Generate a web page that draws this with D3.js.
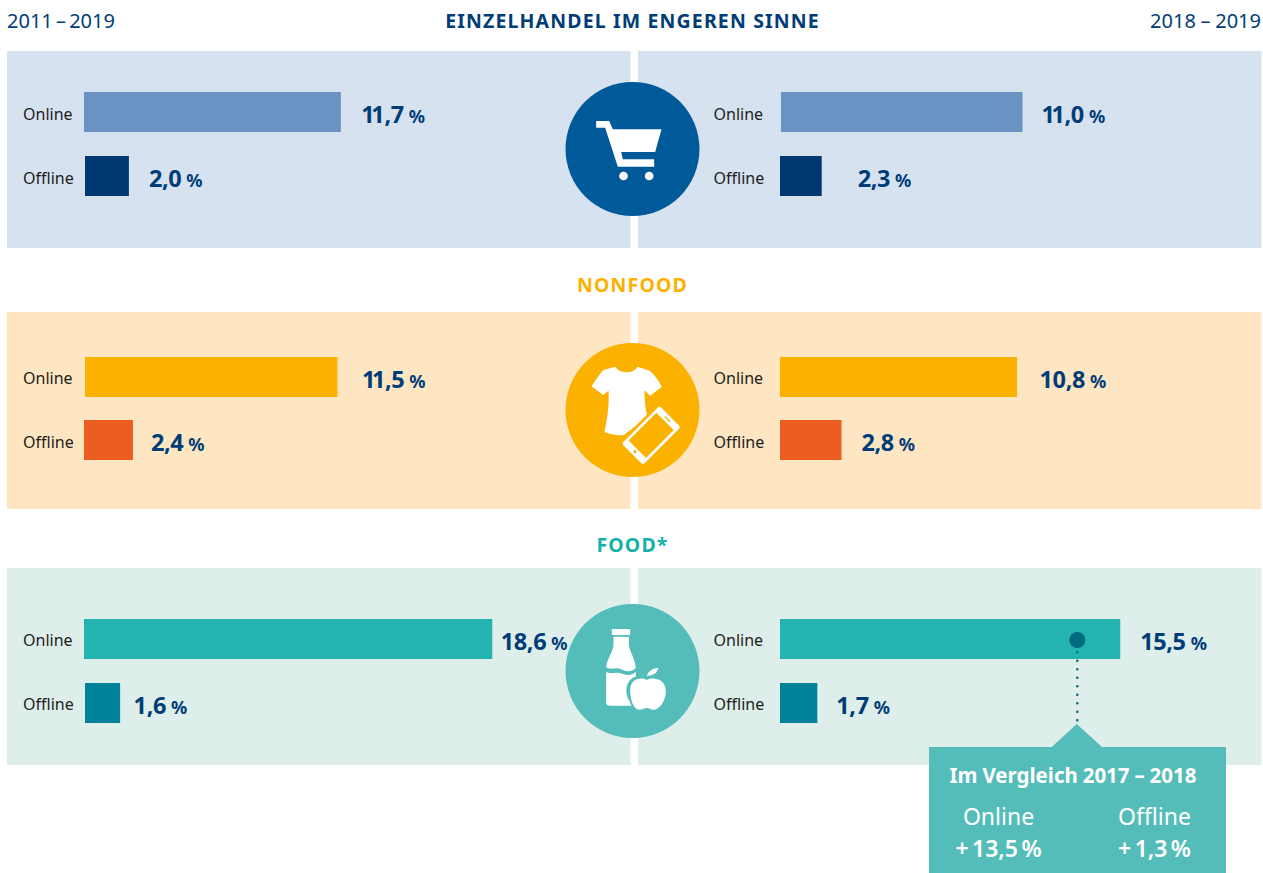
<!DOCTYPE html>
<html lang="de">
<head>
<meta charset="utf-8">
<title>Einzelhandel Online / Offline</title>
<script src="https://cdnjs.cloudflare.com/ajax/libs/d3/7.8.5/d3.min.js"></script>
<style>
html,body{margin:0;padding:0;background:#fff}
svg{display:block}
text{font-family:"Noto Sans","Open Sans",sans-serif}
</style>
</head>
<body>
<svg id="chart" width="1263" height="873"></svg>
<script>
// ---- data ----
const periods = ["2011 – 2019", "2018 – 2019"];
const groups = ["EINZELHANDEL IM ENGEREN SINNE", "NONFOOD", "FOOD*"];
const channels = ["Online", "Offline"];
const longOnline = [11.7, 11.5, 18.6];
const longOffline = [2.0, 2.4, 1.6];
const shortOnline = [11.0, 10.8, 15.5];
const shortOffline = [2.3, 2.8, 1.7];
// The reference draws the 2,4 % and 2,3 % bars shorter than their printed values;
// these are the bar lengths, the printed values stay above.
const longOfflineDrawn = [2.0, 2.23, 1.6];
const shortOfflineDrawn = [1.9, 2.8, 1.7];
const comparisonTitle = "Im Vergleich 2017 – 2018";
const comparisonChannels = ["Online", "Offline"];
const comparisonValues = ["+ 13,5 %", "+ 1,3 %"];

// ---- layout and style ----
const panelTops = [51, 312, 568];
const panelH = 197;
const panelX = [[7, 623.5], [638, 623.5]];
const panelFill = ["#d6e2f0", "#fee6c2", "#deeeea"];
const onlineFill = ["#6a92c3", "#fbb100", "#23b4b0"];
const offlineFill = ["#003871", "#ee5d20", "#008299"];
const circleFill = ["#005a9a", "#fbb100", "#55bdb9"];
const titleFill = ["#003d78", "#fbb100", "#12b1a9"];
const titleY = [28, 292, 552];
const barY = [[92, 156], [357, 420], [619, 683]];
const labelY = [[120, 184], [384, 448], [646, 710]];
const barH = 40;
const starts = [[[84, 85], [85, 84], [84, 85]], [[781, 780], [780, 780], [780, 780]]];
const gaps = [[[20.5, 20], [24.5, 18], [8.5, 13.5]], [[19, 36], [22.5, 20], [20, 19]]];
const labelX = [23, 713.5];
const navy = "#003d78";
const cx = 632.5, cy = [149, 410, 671], r = 67;

const x = d3.scaleLinear().domain([0, 1]).range([0, 21.95]);
const fmt = d3.formatLocale({decimal: ",", thousands: ".", grouping: [3], currency: ["", ""]}).format(".1f");

const svg = d3.select("#chart");

// panels
groups.forEach((g, gi) => {
  panelX.forEach(([px, pw]) => {
    svg.append("rect").attr("x", px).attr("y", panelTops[gi]).attr("width", pw).attr("height", panelH).attr("fill", panelFill[gi]);
  });
  svg.append("text").attr("x", 632.5).attr("y", titleY[gi])
    .attr("text-anchor", "middle").attr("font-size", 19.5).attr("font-weight", 700)
    .attr("letter-spacing", 1.15).attr("fill", titleFill[gi]).text(g);
});

// period headers
svg.append("text").attr("x", 7).attr("y", 28).attr("font-size", 20).attr("word-spacing", -2).attr("fill", navy).text(periods[0]);
svg.append("text").attr("x", 1261).attr("y", 28).attr("text-anchor", "end").attr("font-size", 20).attr("word-spacing", -0.5).attr("fill", navy).text(periods[1]);

// bars
const sides = [
  {on: longOnline, off: longOffline, offBar: longOfflineDrawn},
  {on: shortOnline, off: shortOffline, offBar: shortOfflineDrawn}
];
sides.forEach((s, si) => {
  groups.forEach((g, gi) => {
    channels.forEach((ch, ci) => {
      const v = ci === 0 ? s.on[gi] : s.off[gi];
      const bv = ci === 0 ? s.on[gi] : s.offBar[gi];
      const x0 = starts[si][gi][ci];
      const y0 = barY[gi][ci];
      svg.append("text").attr("x", labelX[si]).attr("y", labelY[gi][ci]).attr("font-size", 16).attr("fill", "#1d1d1b").text(ch);
      svg.append("rect").attr("x", x0).attr("y", y0).attr("width", x(bv)).attr("height", barH)
        .attr("fill", ci === 0 ? onlineFill[gi] : offlineFill[gi]);
      const t = svg.append("text").attr("x", x0 + x(bv) + gaps[si][gi][ci]).attr("y", y0 + 31)
        .attr("font-weight", 700).attr("fill", navy).attr("font-size", 23.5).attr("letter-spacing", -0.4);
      const label = fmt(v);
      // the original face kerns the pair "11" tightly
      t.append("tspan").attr("dx", label.startsWith("11") ? "0 -3" : null).text(label);
      t.append("tspan").attr("dx", 5).attr("font-size", 18).attr("letter-spacing", 0).text("%");
    });
  });
});

// circles + icons (icon outlines in a 3x drawing space)
groups.forEach((g, gi) => {
  svg.append("circle").attr("cx", cx).attr("cy", cy[gi]).attr("r", r).attr("fill", circleFill[gi]);
});
const ic = svg.append("g").attr("fill", "#fff");

// cart
const cart = ic.append("g").attr("transform", `translate(${cx - 277 / 3},${cy[0] - 267 / 3}) scale(${1 / 3})`);
cart.append("path").attr("d", "M168,183L207,183L218,208L364,208L345,276L243,276L248,298L342,298L342,320L233,320L195,203L168,203Z");
cart.append("circle").attr("cx", 250).attr("cy", 348).attr("r", 13);
cart.append("circle").attr("cx", 327).attr("cy", 348).attr("r", 13);

// shirt + phone
const shirt = ic.append("g").attr("transform", `translate(${cx - 277 / 3},${cy[1] - 240 / 3}) scale(${1 / 3})`);
shirt.append("path").attr("d", "M225,110C240,132 280,132 292,110L328,122C345,135 355,152 365,170L330,197L314,181C312,205 314,225 322,262L250,316C230,316 210,313 193,306C200,270 208,230 205,182L189,195L154,169C170,145 180,130 190,120Z");
const phone = shirt.append("g").attr("transform", "translate(333,316) rotate(-45)");
phone.append("rect").attr("x", -88).attr("y", -53).attr("width", 176).attr("height", 106).attr("rx", 14).attr("fill", circleFill[1]);
phone.append("rect").attr("x", -80).attr("y", -45).attr("width", 160).attr("height", 90).attr("rx", 8).attr("fill", "#fff");
phone.append("rect").attr("x", -59).attr("y", -37).attr("width", 118).attr("height", 74).attr("rx", 2).attr("fill", circleFill[1]);
phone.append("circle").attr("cx", -69).attr("cy", 0).attr("r", 4.5).attr("fill", circleFill[1]);
phone.append("rect").attr("x", 67).attr("y", -11).attr("width", 4).attr("height", 22).attr("fill", circleFill[1]);

// bottle + apple
const food = ic.append("g").attr("transform", `translate(${cx - 277 / 3},${cy[2] - 241 / 3}) scale(${1 / 3})`);
food.append("rect").attr("x", 215).attr("y", 115).attr("width", 55).attr("height", 18).attr("rx", 2);
food.append("path").attr("d", "M220,138L266,138L266,160C268,185 284,200 287,232C275,243 258,245 243,236C228,228 212,240 198,230C201,200 220,185 220,160Z");
food.append("path").attr("d", "M198,243C212,252 228,242 243,248C258,256 275,255 287,243L287,258C265,262 252,290 262,320L274,345L208,345Q198,345 198,335Z");
food.append("path").attr("d", "M320,268C340,258 375,265 377,300C378,325 360,357 340,357C330,357 328,352 320,352C312,352 310,357 298,357C280,357 270,325 270,300C270,265 300,258 320,268Z");
food.append("path").attr("d", "M320,255C325,240 340,232 355,232C350,248 338,256 320,255Z");

// callout leader
const calloutFill = "#55bdb9";
const leaderX = 1077.3;
svg.append("line").attr("x1", leaderX).attr("x2", leaderX).attr("y1", 652.3).attr("y2", 722)
  .attr("stroke", "#006a7f").attr("stroke-width", 2.6).attr("stroke-linecap", "round").attr("stroke-dasharray", "0 8.5");
svg.append("circle").attr("cx", leaderX).attr("cy", 640).attr("r", 8).attr("fill", "#006a7f");

// callout box
svg.append("path").attr("d", "M929,747L1051.7,747L1076.7,724L1102,747L1226,747L1226,873L929,873Z").attr("fill", calloutFill);
svg.append("text").attr("x", 1073).attr("y", 783).attr("text-anchor", "middle").attr("font-size", 20.5).attr("font-weight", 700).attr("word-spacing", -0.5).attr("fill", "#fff").text(comparisonTitle);
const compX = [998.5, 1154.5];
comparisonChannels.forEach((c, i) => {
  svg.append("text").attr("x", compX[i]).attr("y", 825).attr("text-anchor", "middle").attr("font-size", 23).attr("fill", "#fff").text(c);
  svg.append("text").attr("x", compX[i]).attr("y", 857).attr("text-anchor", "middle").attr("font-size", 23).attr("font-weight", 600).attr("word-spacing", -2.5).attr("fill", "#fff").text(comparisonValues[i]);
});
</script>
</body>
</html>
